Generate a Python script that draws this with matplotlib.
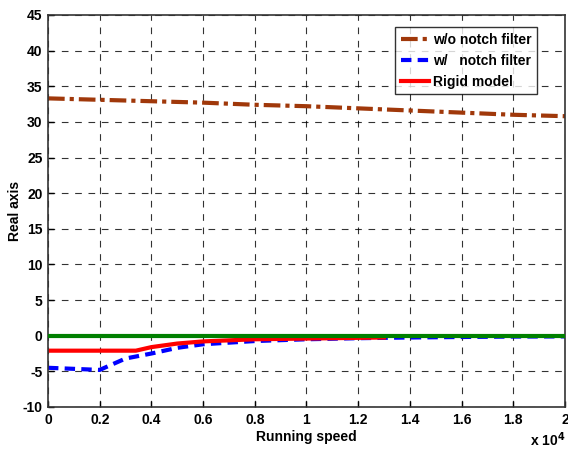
import matplotlib
matplotlib.use("Agg")
import matplotlib.pyplot as plt
from matplotlib.ticker import FuncFormatter, MultipleLocator

plt.rcParams['font.family'] = ['Liberation Sans', 'DejaVu Sans']
plt.rcParams['font.weight'] = 'bold'
plt.rcParams['axes.unicode_minus'] = False
plt.rcParams['mathtext.default'] = 'bf'

speed_wo = [0, 2000, 4000, 6000, 8000, 10000, 12000, 14000, 16000, 18000, 20000]
real_wo = [33.3, 33.1, 32.9, 32.7, 32.4, 32.2, 31.9, 31.6, 31.3, 31.0, 30.8]

speed_w = [0, 2000, 3000, 4000, 5000, 6000, 8000, 10000, 12000, 14000, 16000, 18000, 20000]
real_w = [-4.5, -4.8, -3.2, -2.5, -1.7, -1.2, -0.75, -0.5, -0.35, -0.25, -0.18, -0.12, -0.1]

speed_rigid = [0, 3400, 4000, 5000, 6000, 8000, 10000, 12000, 13000]
real_rigid = [-2.1, -2.1, -1.6, -1.1, -0.8, -0.5, -0.4, -0.3, -0.25]

speed_zero = [0, 20000]
real_zero = [0, 0]

fig = plt.figure(figsize=(5.68, 4.5), dpi=100)
ax = fig.add_axes([0.0845, 0.0956, 0.9102, 0.8711])

ax.plot(speed_zero, real_zero, color='#008000', lw=3, zorder=3)
ax.plot(speed_wo, real_wo, color='#a0380a', lw=3, ls=(0, (4, 1.2, 1, 1.2)), label='w/o notch filter')
ax.plot(speed_w, real_w, color='#0000ff', lw=3, ls=(0, (2.5, 1.5)), label='w/   notch filter')
ax.plot(speed_rigid, real_rigid, color='#ff0000', lw=3, label='Rigid model')

ax.set_xlim(0, 20000)
ax.set_ylim(-10, 45)
ax.xaxis.set_major_locator(MultipleLocator(2000))
ax.yaxis.set_major_locator(MultipleLocator(5))
ax.xaxis.set_major_formatter(FuncFormatter(lambda v, p: ('%g' % (v / 1e4))))
ax.tick_params(direction='in', labelsize=10, length=4, width=1, pad=4)
for lab in ax.get_xticklabels() + ax.get_yticklabels():
    lab.set_fontweight('bold')
ax.grid(True, color='black', ls=(0, (6, 6)), lw=0.8, alpha=0.8)
for s in ax.spines.values():
    s.set_linewidth(1.2)
    s.set_color('#333333')

ax.set_xlabel('Running speed', fontsize=10, fontweight='bold')
ax.xaxis.set_label_coords(0.5, -0.058)
ax.set_ylabel('Real axis', fontsize=10, fontweight='bold')
ax.yaxis.set_label_coords(-0.05, 0.5)
ax.text(1.0, -0.1, 'x 10$^{4}$', transform=ax.transAxes, ha='right', va='baseline',
        fontsize=10, fontweight='bold')

leg = ax.legend(loc='upper right', bbox_to_anchor=(0.946, 0.969), fontsize=10, frameon=True,
                fancybox=False, edgecolor='black', handlelength=2.0, handletextpad=0.3,
                borderpad=0.4, labelspacing=0.5, borderaxespad=0)
leg.get_frame().set_linewidth(1.0)
for t in leg.get_texts():
    t.set_fontweight('bold')

fig.savefig('out.png', dpi=100)
